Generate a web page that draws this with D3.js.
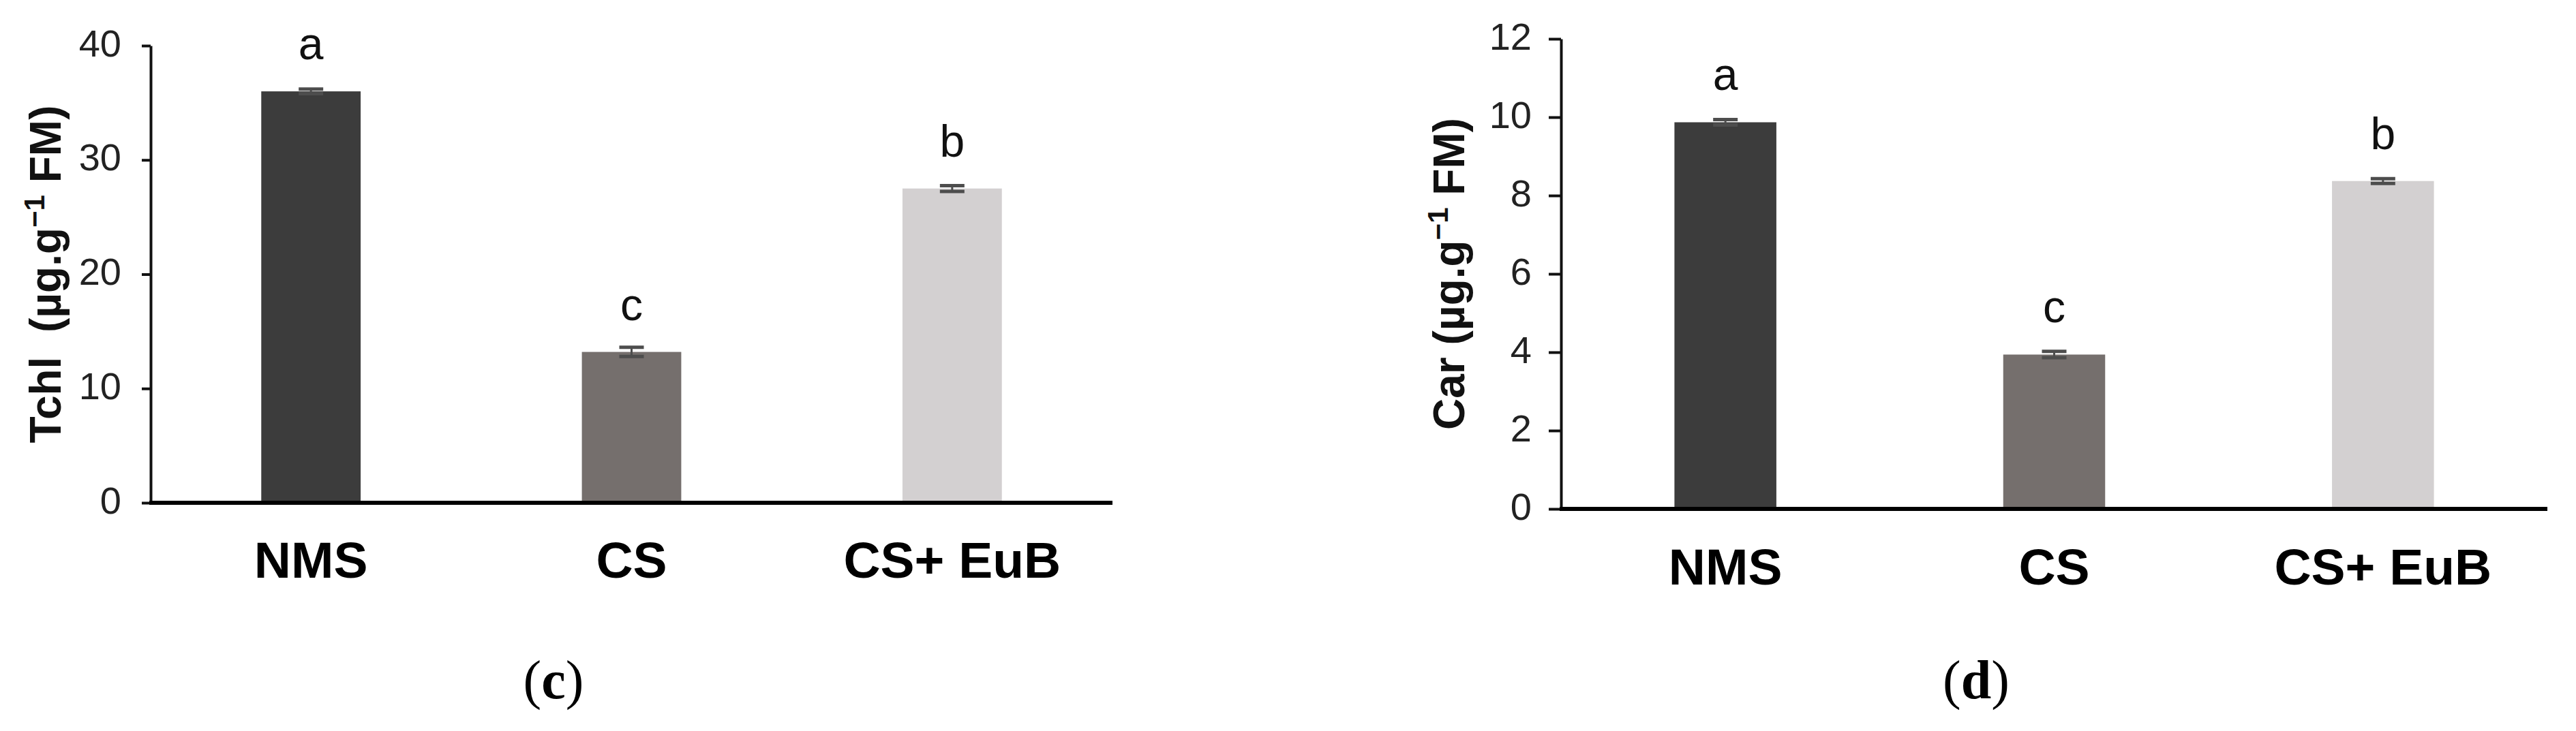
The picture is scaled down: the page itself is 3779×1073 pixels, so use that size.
<!DOCTYPE html>
<html>
<head>
<meta charset="utf-8">
<script src="https://cdn.jsdelivr.net/npm/d3@7"></script>
<style>
  html, body { margin: 0; padding: 0; background: #fff; }
  svg { display: block; }
  text { white-space: pre; }
</style>
</head>
<body>
<svg id="chart" width="3779" height="1073"></svg>
<script>
// ---- data ----
const categories = ["NMS", "CS", "CS+ EuB"];
const barColors = ["#3c3c3c", "#756f6d", "#d3d0d1"];

const tchlValues = [36.0, 13.2, 27.5];
const tchlErrors = [0.2, 0.4, 0.25];
const tchlLetters = ["a", "c", "b"];
const tchlTicks = [0, 10, 20, 30, 40];

const carValues = [9.87, 3.94, 8.37];
const carErrors = [0.07, 0.08, 0.06];
const carLetters = ["a", "c", "b"];
const carTicks = [0, 2, 4, 6, 8, 10, 12];

const svg = d3.select("#chart");

function drawPanel(opt) {
  const g = svg.append("g");
  const x = d3.scaleBand().domain(categories).range([opt.x0, opt.x1])
    .paddingInner(0.69).paddingOuter(0.345);
  const y = d3.scaleLinear().domain([0, opt.max]).range([opt.y0, opt.y1]);

  // bars
  g.selectAll("rect.bar").data(opt.values).enter().append("rect")
    .attr("class", "bar")
    .attr("x", (d, i) => x(categories[i]))
    .attr("width", x.bandwidth())
    .attr("y", d => y(d))
    .attr("height", d => y(0) - y(d))
    .attr("fill", (d, i) => barColors[i]);

  // error bars
  const capW = 36;
  const eb = g.selectAll("g.err").data(opt.values).enter().append("g").attr("class", "err");
  eb.append("line")
    .attr("x1", (d, i) => x(categories[i]) + x.bandwidth() / 2)
    .attr("x2", (d, i) => x(categories[i]) + x.bandwidth() / 2)
    .attr("y1", (d, i) => y(d + opt.errors[i]))
    .attr("y2", (d, i) => y(d - opt.errors[i]))
    .attr("stroke", "#4d4d4d").attr("stroke-width", 3);
  [1, -1].forEach(s => {
    eb.append("line")
      .attr("x1", (d, i) => x(categories[i]) + x.bandwidth() / 2 - capW / 2)
      .attr("x2", (d, i) => x(categories[i]) + x.bandwidth() / 2 + capW / 2)
      .attr("y1", (d, i) => y(d + s * opt.errors[i]))
      .attr("y2", (d, i) => y(d + s * opt.errors[i]))
      .attr("stroke", "#4d4d4d").attr("stroke-width", 5);
  });

  // significance letters
  g.selectAll("text.letter").data(opt.values).enter().append("text")
    .attr("class", "letter")
    .attr("x", (d, i) => x(categories[i]) + x.bandwidth() / 2)
    .attr("y", d => y(d) - 47)
    .attr("text-anchor", "middle")
    .attr("font-family", "Liberation Sans, Arial, sans-serif")
    .attr("font-size", 66)
    .attr("fill", "#111")
    .text((d, i) => opt.letters[i]);

  // y axis
  const ya = g.append("g").attr("transform", `translate(${opt.x0},0)`)
    .call(d3.axisLeft(y).tickValues(opt.ticks).tickSize(opt.tick).tickSizeOuter(0).tickFormat(d3.format("d")));
  ya.select(".domain").attr("stroke", "#111").attr("stroke-width", 4);
  ya.selectAll(".tick line").attr("stroke", "#111").attr("stroke-width", 4);
  ya.selectAll(".tick text")
    .attr("x", -43).attr("dy", "0.27em")
    .attr("font-family", "Liberation Sans Narrow, Arial Narrow, Liberation Sans, sans-serif")
    .attr("font-size", 56).attr("fill", "#222");

  // x axis
  const xa = g.append("g").attr("transform", `translate(0,${opt.y0})`)
    .call(d3.axisBottom(x).tickSize(0).tickSizeOuter(0));
  xa.select(".domain").attr("stroke", "#000").attr("stroke-width", 6)
    .attr("d", `M${opt.x0 - 2},0H${opt.x1}`);
  xa.selectAll(".tick text")
    .attr("y", opt.labelY - opt.y0).attr("dy", 0)
    .attr("font-family", "Liberation Sans, Arial, sans-serif")
    .attr("font-weight", "bold").attr("font-size", 75).attr("fill", "#000");

  // y title
  const t = g.append("text")
    .attr("transform", `translate(${opt.titleX},${(opt.y0 + opt.y1) / 2}) rotate(-90)`)
    .attr("text-anchor", "middle")
    .attr("font-family", "Liberation Sans, Arial, sans-serif")
    .attr("font-weight", "bold").attr("font-size", 64).attr("fill", "#111");
  t.append("tspan").text(opt.title + "(µg.g");
  t.append("tspan").attr("dy", -24).attr("font-size", 42).text("−1");
  t.append("tspan").attr("dy", 24).text(" FM)");

  // caption
  const c = svg.append("text")
    .attr("x", opt.capX).attr("y", 1025)
    .attr("text-anchor", "middle")
    .attr("font-family", "Liberation Serif, Times New Roman, serif")
    .attr("font-size", 80).attr("fill", "#000");
  c.append("tspan").text("(");
  c.append("tspan").attr("font-weight", "bold").text(opt.caption);
  c.append("tspan").text(")");
}

drawPanel({
  x0: 221, x1: 1632, y0: 738, y1: 67, max: 40, tick: 13,
  values: tchlValues, errors: tchlErrors, letters: tchlLetters, ticks: tchlTicks,
  labelY: 848, titleX: 89, title: "Tchl  ", capX: 812, caption: "c"
});
drawPanel({
  x0: 2290, x1: 3737, y0: 747, y1: 57, max: 12, tick: 18,
  values: carValues, errors: carErrors, letters: carLetters, ticks: carTicks,
  labelY: 858, titleX: 2148, title: "Car ", capX: 2899, caption: "d"
});
</script>
</body>
</html>
